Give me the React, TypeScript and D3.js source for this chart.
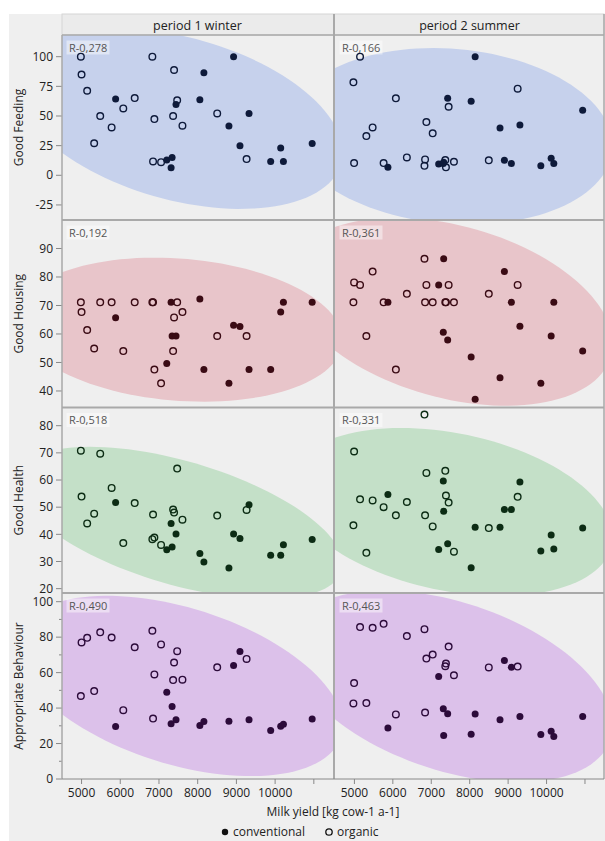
import React from "react";
import * as d3 from "d3";

// milk yield per farm [kg cow-1 a-1]
const winterConvYield = [5880, 7201, 7313, 7339, 7440, 8056, 8160, 8807, 8927, 9092, 9326, 9885, 10144, 10214, 10957];
const winterOrgYield = [4982, 5000, 5145, 5326, 5482, 5777, 6078, 6373, 6829, 6847, 6881, 7054, 7365, 7390, 7470, 7606, 8504, 9263];
const summerConvYield = [5872, 7193, 7313, 7323, 7427, 8038, 8142, 8789, 8903, 9084, 9307, 9851, 10120, 10189, 10940];
const summerOrgYield = [4974, 4992, 5147, 5311, 5474, 5760, 6079, 6365, 6823, 6839, 6873, 7037, 7365, 7382, 7452, 7590, 8497, 9248];

// welfare principle scores, same farm order as the yields
const feedingWinterConv = [64.3, 12.8, 6.3, 15.1, 59.8, 63.7, 86.5, 41.5, 100, 24.9, 52.2, 11.7, 23, 11.7, 26.9];
const feedingWinterOrg = [100, 85, 71.3, 27, 50, 40.4, 56.4, 65.1, 100, 11.7, 47.4, 11.1, 50, 88.8, 63.2, 41.8, 52.2, 13.7];
const feedingSummerConv = [6.7, 9.5, 10, 11, 64.9, 62.4, 100, 39.8, 12.6, 10, 42.4, 8, 14.3, 10, 54.8];
const feedingSummerOrg = [78.4, 10.3, 100, 33.1, 40.4, 10.3, 64.9, 15.1, 8, 13.4, 44.9, 35.4, 12.8, 6.7, 57.8, 11.4, 12.6, 73];

const housingWinterConv = [65.7, 49.6, 71.1, 59.3, 59.3, 72.3, 47.5, 42.7, 63.1, 62.6, 47.5, 47.5, 67.7, 71.1, 71.1];
const housingWinterOrg = [71.1, 67.7, 61.4, 54.9, 71.1, 71.1, 54, 71.1, 71.1, 71.1, 47.5, 42.7, 54, 65.8, 71.1, 67.7, 59.3, 59.3];
const housingSummerConv = [71.1, 77.2, 60.6, 86.4, 57.9, 51.9, 37.1, 44.6, 81.9, 71.1, 62.7, 42.7, 59.3, 71.1, 54];
const housingSummerOrg = [71.1, 78.1, 77.2, 59.3, 81.9, 71.1, 47.5, 74.1, 86.4, 71.1, 77.2, 71.1, 71.1, 71.1, 77.2, 71.1, 74.1, 77.2];

const healthWinterConv = [51.7, 34.3, 44, 35.3, 40.1, 32.9, 29.8, 27.6, 40.1, 38.5, 50.9, 32.3, 32.3, 36.2, 38.1];
const healthWinterOrg = [70.8, 53.9, 44, 47.6, 69.7, 57.1, 36.8, 51.5, 38.2, 47.3, 38.8, 36.1, 49.1, 48, 64.2, 45.4, 46.9, 49];
const healthSummerConv = [54.7, 34.4, 59.6, 48.5, 36.5, 27.7, 42.6, 42.6, 49.1, 49.1, 59.3, 33.9, 39.8, 34.6, 42.3];
const healthSummerOrg = [43.3, 70.5, 52.9, 33.2, 52.5, 50, 47, 51.9, 84.1, 47, 62.6, 42.9, 63.4, 54.3, 51.7, 33.6, 42.3, 53.8];

const behaviourWinterConv = [29.6, 48.9, 31.1, 40.9, 33.4, 30.2, 32.4, 32.6, 64, 71.9, 33.4, 27.3, 29.8, 30.9, 33.8];
const behaviourWinterOrg = [46.8, 77, 79.6, 49.6, 82.7, 79.8, 38.8, 74.3, 83.6, 34.1, 59, 75.9, 55.8, 65.7, 72.1, 56, 63, 67.7];
const behaviourSummerConv = [28.7, 57.8, 39.6, 24.5, 36.8, 25.3, 36.6, 33.4, 66.8, 63, 35.3, 25.1, 27, 24, 35.3];
const behaviourSummerOrg = [42.6, 54.1, 85.7, 42.8, 85.3, 87.5, 36.4, 80.6, 84.5, 37.5, 67.9, 70.2, 63.6, 65.1, 74.7, 58.5, 62.9, 63.4];

const periods = ["period 1 winter", "period 2 summer"];
const rowTitles = ["Good Feeding", "Good Housing", "Good Health", "Appropriate Behaviour"];
const rLabels = [
  ["R-0,278", "R-0,166"],
  ["R-0,192", "R-0,361"],
  ["R-0,518", "R-0,331"],
  ["R-0,490", "R-0,463"],
];
const xTicks = [5000, 6000, 7000, 8000, 9000, 10000, 11000];
const xTickLabels = ["5000", "6000", "7000", "8000", "9000", "10000", ""];

const rows = [
  { domain: [-37.7, 118.3], ticks: [-25, 0, 25, 50, 75, 100], minor: [] as number[], fill: "#c6d1ec", dot: "#0e1a3a",
    winter: [feedingWinterConv, feedingWinterOrg], summer: [feedingSummerConv, feedingSummerOrg] },
  { domain: [34.2, 100], ticks: [40, 50, 60, 70, 80, 90], minor: [] as number[], fill: "#e8c5ca", dot: "#3a0b14",
    winter: [housingWinterConv, housingWinterOrg], summer: [housingSummerConv, housingSummerOrg] },
  { domain: [18.4, 86.7], ticks: [20, 30, 40, 50, 60, 70, 80], minor: [] as number[], fill: "#c4e0c8", dot: "#0c2c14",
    winter: [healthWinterConv, healthWinterOrg], summer: [healthSummerConv, healthSummerOrg] },
  { domain: [0, 104.9], ticks: [0, 20, 40, 60, 80, 100], minor: [10, 30, 50, 70, 90], fill: "#dcc1ea", dot: "#2c0b3a",
    winter: [behaviourWinterConv, behaviourWinterOrg], summer: [behaviourSummerConv, behaviourSummerOrg] },
];

const colX = [[62, 333], [335, 604]];
const rowY = [[35, 220], [220, 407.5], [407.5, 593], [593, 779]];
const font = "'Open Sans', 'Noto Sans', sans-serif";
// 95% density ellipse radius, F-based (n ~ 33)
const k95 = 2.61;

// bivariate normal density ellipse in data units
function ellipse(xs: number[], ys: number[]) {
  const n = xs.length;
  const mx = d3.mean(xs)!;
  const my = d3.mean(ys)!;
  let sxx = 0, syy = 0, sxy = 0;
  for (let i = 0; i < n; i++) {
    sxx += (xs[i] - mx) ** 2;
    syy += (ys[i] - my) ** 2;
    sxy += (xs[i] - mx) * (ys[i] - my);
  }
  sxx /= n - 1; syy /= n - 1; sxy /= n - 1;
  const l11 = Math.sqrt(sxx);
  const l21 = sxy / l11;
  const l22 = Math.sqrt(syy - l21 * l21);
  return d3.range(0, 120).map((i) => {
    const t = (i / 120) * 2 * Math.PI;
    return [mx + k95 * l11 * Math.cos(t), my + k95 * (l21 * Math.cos(t) + l22 * Math.sin(t))];
  });
}

export default function App() {
  const width = 605;
  const height = 841;
  const border = "#a9a9a9";

  return (
    <div style={{ position: "absolute", left: 0, top: 0 }}>
      <svg width={width} height={height} style={{ display: "block", fontFamily: font }}>
        <rect x={0} y={0} width={width} height={height} fill="#ffffff" />
        <rect x={9} y={14} width={width - 9} height={height - 14} fill="#efefef" />
        {/* period headers */}
        <rect x={62} y={14} width={542} height={21} fill="#ebebeb" stroke="#d6d6d6" />
        {periods.map((p, c) => (
          <text key={p} x={(colX[c][0] + colX[c][1]) / 2} y={29.5} textAnchor="middle" fontSize={12.5} fill="#222">
            {p}
          </text>
        ))}
        <defs>
          {rows.map((_, r) =>
            colX.map((cx, c) => (
              <clipPath id={`clip-${r}-${c}`} key={`${r}-${c}`}>
                <rect x={cx[0]} y={rowY[r][0]} width={cx[1] - cx[0]} height={rowY[r][1] - rowY[r][0]} />
              </clipPath>
            ))
          )}
        </defs>
        {rows.map((row, r) => {
          const y = d3.scaleLinear().domain(row.domain).range([rowY[r][1], rowY[r][0]]);
          return (
            <g key={r}>
              {/* y axis */}
              {row.ticks.map((t) => (
                <g key={t} transform={`translate(0,${y(t)})`}>
                  <line x1={56} x2={62} stroke="#888" />
                  <text x={53} dy="0.35em" textAnchor="end" fontSize={12} fill="#222">{t}</text>
                </g>
              ))}
              {row.minor.map((t) => (
                <line key={t} x1={59} x2={62} y1={y(t)} y2={y(t)} stroke="#888" />
              ))}
              <text
                transform={`translate(19,${(rowY[r][0] + rowY[r][1]) / 2}) rotate(-90)`}
                textAnchor="middle"
                dy="0.35em"
                fontSize={12}
                fill="#222"
              >
                {rowTitles[r]}
              </text>
              {colX.map((cx, c) => {
                const x = d3.scaleLinear().domain([4495, 11495]).range(cx);
                const [conv, org] = c === 0 ? row.winter : row.summer;
                const convX = c === 0 ? winterConvYield : summerConvYield;
                const orgX = c === 0 ? winterOrgYield : summerOrgYield;
                const ell = ellipse([...convX, ...orgX], [...conv, ...org]);
                const path = d3
                  .line<number[]>()
                  .x((d) => x(d[0]))
                  .y((d) => y(d[1]))
                  .curve(d3.curveLinearClosed)(ell);
                return (
                  <g key={c}>
                    <g clipPath={`url(#clip-${r}-${c})`}>
                      <path d={path || ""} fill={row.fill} />
                    </g>
                    <rect x={cx[0] + 4.5} y={rowY[r][0] + 5.5} width={43} height={14} fill="#ffffff" fillOpacity={0.45} />
                    <text x={cx[0] + 7} y={rowY[r][0] + 16.5} fontSize={11} fill="#555">{rLabels[r][c]}</text>
                    {orgX.map((v, i) => (
                      <circle key={`o${i}`} cx={x(v)} cy={y(org[i])} r={3.3} fill="none" stroke={row.dot} strokeWidth={1.4} />
                    ))}
                    {convX.map((v, i) => (
                      <circle key={`c${i}`} cx={x(v)} cy={y(conv[i])} r={3.5} fill={row.dot} />
                    ))}
                  </g>
                );
              })}
            </g>
          );
        })}
        {/* panel frame lines */}
        {rowY.slice(1, 4).map((ry, i) => (
          <line key={i} x1={62} x2={604} y1={ry[0]} y2={ry[0]} stroke={border} strokeWidth={2} />
        ))}
        <line x1={62} x2={62} y1={35} y2={779} stroke={border} strokeWidth={1.5} />
        <line x1={334} x2={334} y1={14} y2={779} stroke={border} strokeWidth={2} />
        <line x1={604} x2={604} y1={14} y2={779} stroke={border} strokeWidth={1.5} />
        <line x1={62} x2={604} y1={35} y2={35} stroke={border} strokeWidth={1.5} />
        <line x1={62} x2={604} y1={779} y2={779} stroke="#888" strokeWidth={1} />
        {/* x axis */}
        {colX.map((cx, c) => {
          const x = d3.scaleLinear().domain([4495, 11495]).range(cx);
          return xTicks.map((t, i) => (
            <g key={`${c}-${t}`} transform={`translate(${x(t)},779)`}>
              <line y1={0} y2={5} stroke="#888" />
              <text y={18} textAnchor="middle" fontSize={12} fill="#222">{xTickLabels[i]}</text>
            </g>
          ));
        })}
        <text x={333} y={816} textAnchor="middle" fontSize={12} fill="#222">Milk yield [kg cow-1 a-1]</text>
        <circle cx={225} cy={832} r={3.2} fill="#111" />
        <text x={233} y={836} fontSize={12} fill="#222">conventional</text>
        <circle cx={329} cy={832} r={3.2} fill="none" stroke="#111" strokeWidth={1.3} />
        <text x={337} y={836} fontSize={12} fill="#222">organic</text>
      </svg>
    </div>
  );
}
